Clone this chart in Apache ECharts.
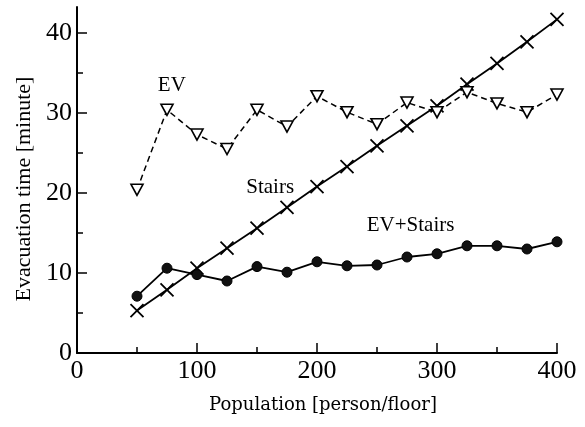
<!DOCTYPE html>
<html>
<head>
<meta charset="utf-8">
<script src="https://cdn.jsdelivr.net/npm/echarts@6/dist/echarts.min.js"></script>
<style>
  html, body { margin: 0; padding: 0; background: #fff; }
  #chart { width: 585px; height: 427px; }
</style>
</head>
<body>
<div id="chart"></div>
<script>
// Population per floor (x) and evacuation times in minutes (y)
const population = [50, 75, 100, 125, 150, 175, 200, 225, 250, 275, 300, 325, 350, 375, 400];
const evTime = [20.4, 30.4, 27.3, 25.5, 30.4, 28.3, 32.1, 30.1, 28.6, 31.3, 30.1, 32.6, 31.2, 30.1, 32.3];
const stairsTime = [5.3, 7.9, 10.6, 13.1, 15.6, 18.2, 20.8, 23.3, 25.9, 28.4, 30.9, 33.6, 36.2, 38.9, 41.7];
const evStairsTime = [7.1, 10.6, 9.8, 9.0, 10.8, 10.1, 11.4, 10.9, 11.0, 12.0, 12.4, 13.4, 13.4, 13.0, 13.9];

// Axis settings
const xMin = 0, xMax = 400, xStep = 100;
const yMin = 0, yMax = 43.25, yStep = 10, yTickTop = 40;

// Series captions, placed at data coordinates
const captions = [
  { text: 'EV', at: [79, 33.5] },
  { text: 'Stairs', at: [161, 20.75] },
  { text: 'EV+Stairs', at: [278, 16] }
];

const serif = '"Liberation Serif", "Times New Roman", serif';
const ink = '#000';

function pairs(ys) { return population.map((x, i) => [x, ys[i]]); }

const chart = echarts.init(document.getElementById('chart'), null, { renderer: 'canvas' });

const gridBox = { left: 77, right: 28, bottom: 74 };
const plotHeight = 427 - 7 - 74;

const option = {
  backgroundColor: '#fff',
  animation: false,
  grid: [
    Object.assign({ top: 7 }, gridBox),
    // inner grid ending at the last labelled value, used only for the y ticks
    Object.assign({ top: 7 + plotHeight * (1 - yTickTop / yMax) }, gridBox)
  ],
  xAxis: [
    {
      type: 'value', gridIndex: 0, min: xMin, max: xMax, interval: xStep,
      axisLine: { lineStyle: { color: ink, width: 2 } },
      axisTick: { inside: true, length: 10, lineStyle: { color: ink, width: 1.5 } },
      minorTick: { show: true, splitNumber: 2, length: 6, lineStyle: { color: ink, width: 1.5 } },
      splitLine: { show: false },
      axisLabel: { color: ink, fontFamily: serif, fontSize: 26, margin: 5 },
      name: 'Population [person/floor]',
      nameLocation: 'middle',
      nameGap: 43,
      nameTextStyle: { color: ink, fontFamily: '"DejaVu Serif", serif', fontSize: 18, padding: [0, 0, 0, 12] }
    },
    { type: 'value', gridIndex: 1, min: xMin, max: xMax, show: false }
  ],
  yAxis: [
    {
      type: 'value', gridIndex: 0, min: yMin, max: yMax, interval: yStep,
      axisLine: { show: true, lineStyle: { color: ink, width: 2 } },
      axisTick: { show: false },
      splitLine: { show: false },
      axisLabel: {
        color: ink, fontFamily: serif, fontSize: 26, margin: 5, showMaxLabel: false,
        formatter: v => (v % yStep === 0 ? String(v) : '')
      },
      name: 'Evacuation time [minute]',
      nameLocation: 'middle',
      nameGap: 40,
      nameTextStyle: { color: ink, fontFamily: serif, fontSize: 22, padding: [0, 18, 0, 0] }
    },
    {
      type: 'value', gridIndex: 1, min: yMin, max: yTickTop, interval: yStep,
      axisLine: { show: false },
      axisLabel: { show: false },
      splitLine: { show: false },
      axisTick: { inside: true, length: 10, lineStyle: { color: ink, width: 1.5 } },
      minorTick: { show: true, splitNumber: 2, length: 6, lineStyle: { color: ink, width: 1.5 } }
    }
  ],
  series: [
    {
      name: 'EV', type: 'line', xAxisIndex: 0, yAxisIndex: 0,
      data: pairs(evTime),
      symbol: 'triangle', symbolRotate: 180, symbolSize: [12, 11],
      itemStyle: { color: '#fff', borderColor: ink, borderWidth: 1.6 },
      lineStyle: { color: ink, width: 1.5, type: [6, 4] },
      z: 3
    },
    {
      name: 'Stairs', type: 'line', xAxisIndex: 0, yAxisIndex: 0,
      data: pairs(stairsTime),
      symbol: 'path://M0,0L10,10M10,0L0,10', symbolSize: 13,
      itemStyle: { color: ink, borderColor: ink, borderWidth: 1.8 },
      lineStyle: { color: ink, width: 1.8 },
      z: 2
    },
    {
      name: 'EV+Stairs', type: 'line', xAxisIndex: 0, yAxisIndex: 0,
      data: pairs(evStairsTime),
      symbol: 'circle', symbolSize: 10,
      itemStyle: { color: '#111', borderColor: ink, borderWidth: 1 },
      lineStyle: { color: ink, width: 1.8 },
      z: 4
    }
  ]
};

chart.setOption(option);

// Place the series captions through the chart's own coordinate conversion
chart.setOption({
  graphic: captions.map(c => {
    const p = chart.convertToPixel({ gridIndex: 0 }, c.at);
    return {
      type: 'text', x: p[0], y: p[1],
      style: {
        text: c.text, fill: ink, font: '21px ' + serif,
        textAlign: 'center', textVerticalAlign: 'middle'
      },
      z: 10
    };
  })
});
</script>
</body>
</html>
